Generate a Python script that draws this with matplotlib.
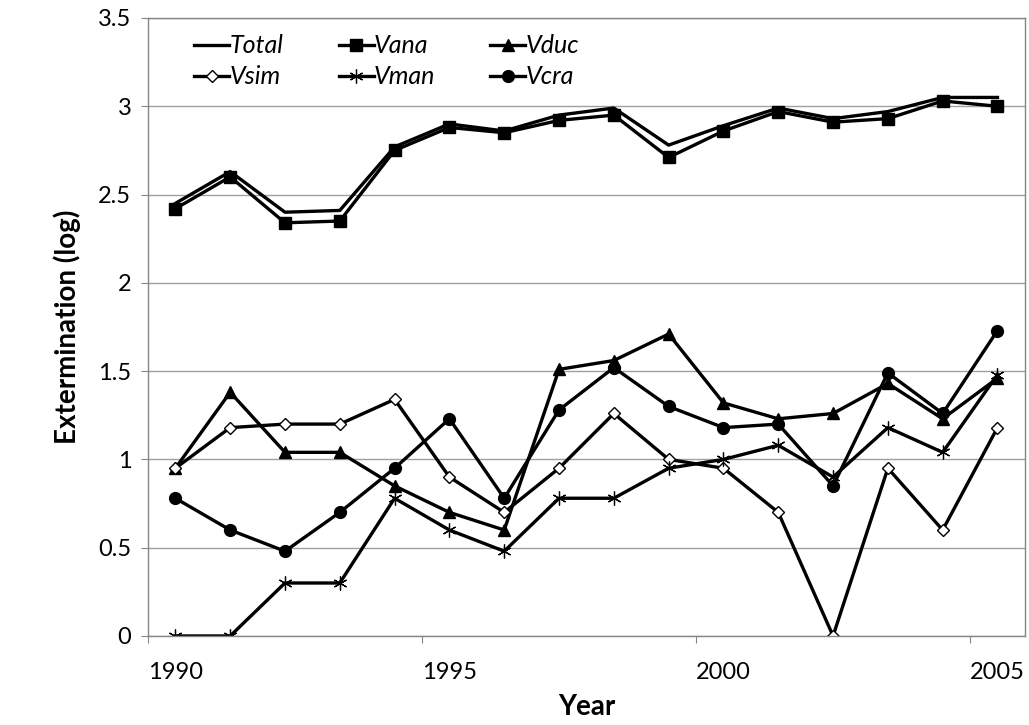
import matplotlib.pyplot as plt

plt.rcParams["font.family"] = ["Lato", "DejaVu Sans"]

# Survey years; each value sits in the middle of its year
years = list(range(1990, 2006))

total = [2.45, 2.63, 2.40, 2.41, 2.77, 2.90, 2.86, 2.95, 2.99, 2.78, 2.89, 2.99, 2.93, 2.97, 3.05, 3.05]
vana = [2.42, 2.60, 2.34, 2.35, 2.75, 2.88, 2.85, 2.92, 2.95, 2.71, 2.86, 2.97, 2.91, 2.93, 3.03, 3.00]
vduc = [0.95, 1.38, 1.04, 1.04, 0.85, 0.70, 0.60, 1.51, 1.56, 1.71, 1.32, 1.23, 1.26, 1.43, 1.23, 1.46]
vsim = [0.95, 1.18, 1.20, 1.20, 1.34, 0.90, 0.70, 0.95, 1.26, 1.00, 0.95, 0.70, 0.00, 0.95, 0.60, 1.18]
vman = [0.00, 0.00, 0.30, 0.30, 0.78, 0.60, 0.48, 0.78, 0.78, 0.95, 1.00, 1.08, 0.90, 1.18, 1.04, 1.48]
vcra = [0.78, 0.60, 0.48, 0.70, 0.95, 1.23, 0.78, 1.28, 1.52, 1.30, 1.18, 1.20, 0.85, 1.49, 1.26, 1.73]

year_labels = ["1990", "1995", "2000", "2005"]

x = [y + 0.5 for y in years]

fig = plt.figure(figsize=(10.29, 7.25), dpi=100)
ax = fig.add_axes([0.1438, 0.1228, 0.8522, 0.8524])

lw = 2.4
h_total, = ax.plot(x, total, color="black", lw=lw, label="Total")
h_vana, = ax.plot(x, vana, color="black", lw=lw, marker="s", ms=8.5, label="Vana")
h_vduc, = ax.plot(x, vduc, color="black", lw=lw, marker="^", ms=9, label="Vduc")
h_vsim, = ax.plot(x, vsim, color="black", lw=lw, marker="D", ms=6,
                  mfc="white", mec="black", mew=1.0, label="Vsim")
h_vman, = ax.plot(x, vman, color="black", lw=lw, marker=(6, 2, 0), ms=10,
                  mec="black", mew=0.9, label="Vman")
h_vcra, = ax.plot(x, vcra, color="black", lw=lw, marker="o", ms=8.5, label="Vcra")

ax.set_xlim(1990, 2006)
ax.set_ylim(0, 3.5)

# tick marks on year boundaries, labels centred on the year itself
ax.set_xticks([1990, 1995, 2000, 2005])
ax.set_xticklabels([])
ax.set_xticks([int(s) + 0.5 for s in year_labels], minor=True)
ax.set_xticklabels(year_labels, minor=True)

ax.set_yticks([0, 0.5, 1, 1.5, 2, 2.5, 3, 3.5])
ax.set_yticklabels(["0", "0.5", "1", "1.5", "2", "2.5", "3", "3.5"])
ax.yaxis.grid(True, color="#a0a0a0", lw=1.0)
ax.set_axisbelow(True)

for side in ax.spines.values():
    side.set_color("#868686")
    side.set_linewidth(1.0)

ax.tick_params(axis="x", which="major", direction="out", length=5, color="#868686")
ax.tick_params(axis="x", which="minor", length=0, labelsize=17, pad=19)
ax.tick_params(axis="y", direction="out", length=5, color="#868686",
               labelsize=17, pad=7)

ax.set_xlabel("Year", fontsize=20, fontweight="bold", labelpad=8)
ax.set_ylabel("Extermination (log)", fontsize=20, fontweight="bold", labelpad=12)

ax.legend(handles=[h_total, h_vsim, h_vana, h_vman, h_vduc, h_vcra],
          ncol=3, loc="upper left", bbox_to_anchor=(0.027, 1.01),
          frameon=False, handlelength=1.4, handletextpad=0.02,
          columnspacing=2.2, labelspacing=0.32,
          prop={"style": "italic", "size": 18})

fig.savefig("out.png", dpi=100)
